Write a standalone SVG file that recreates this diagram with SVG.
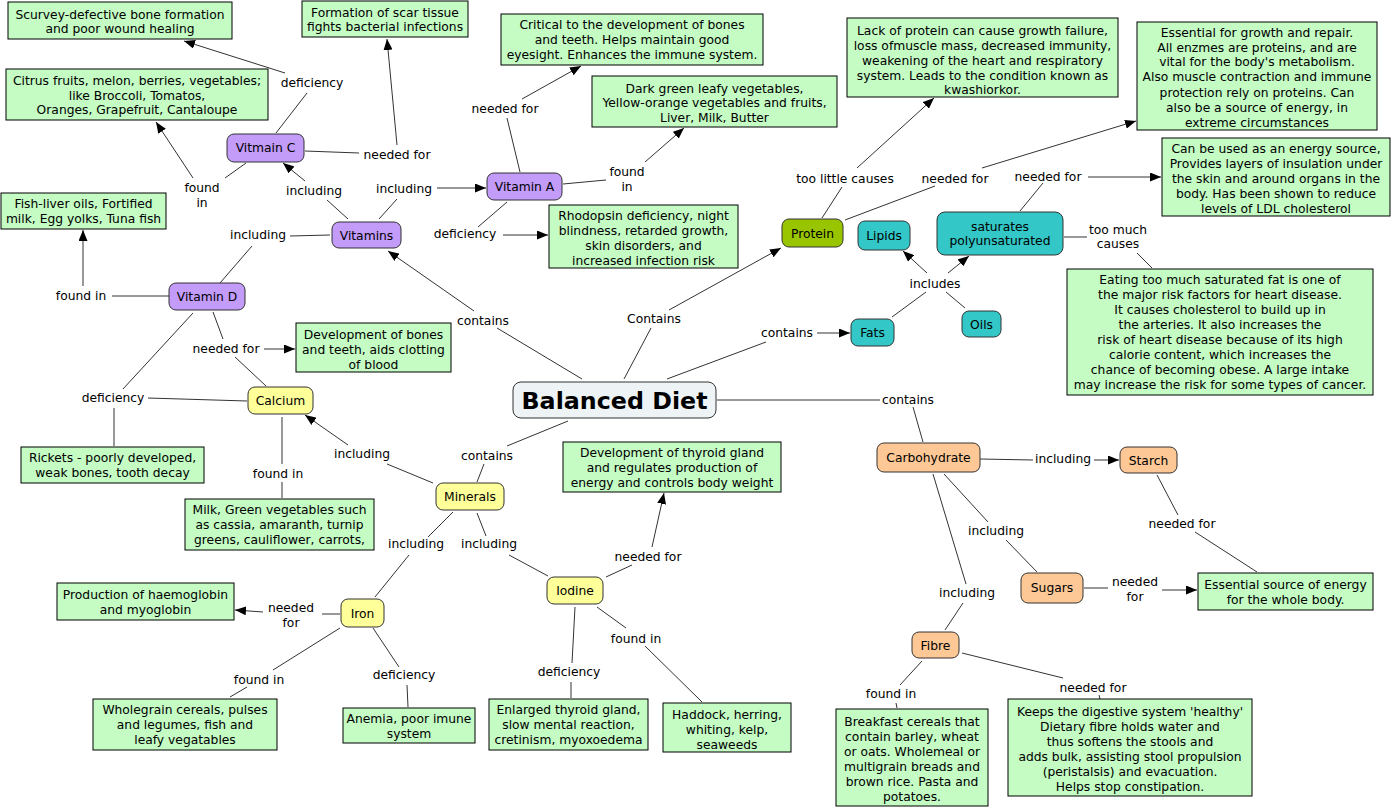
<svg xmlns="http://www.w3.org/2000/svg" width="1392" height="808" viewBox="0 0 1392 808">
<style>
text{font-family:"DejaVu Sans","Verdana",sans-serif;font-size:12.3px;fill:#000;text-anchor:middle}
.box{fill:#c4fcc4;stroke:#000;stroke-width:1}
.n{stroke:#333;stroke-width:1}
.pur{fill:#c39bf8}
.yel{fill:#ffff99}
.cya{fill:#33c7c7}
.ora{fill:#fdc896}
.pro{fill:#99c400}
.c line{stroke:#333;stroke-width:1}
.c line.a{marker-end:url(#arr)}
.title{font-size:23px;font-weight:bold}
</style>
<defs>
<marker id="arr" viewBox="0 0 10 10" refX="10" refY="5" markerWidth="11" markerHeight="9" orient="auto" markerUnits="userSpaceOnUse" preserveAspectRatio="none"><path d="M0,0 L10,5 L0,10 z" fill="#000"/></marker>
</defs>
<rect width="1392" height="808" fill="#fff"/>

<g id="connectors" class="c">
<line x1="285" y1="73" x2="184" y2="41" class="a"/>
<line x1="276" y1="133" x2="307" y2="93"/>
<line x1="305" y1="151" x2="359" y2="153"/>
<line x1="397" y1="145" x2="387" y2="39" class="a"/>
<line x1="246" y1="163" x2="225" y2="178"/>
<line x1="193" y1="178" x2="156" y2="122" class="a"/>
<line x1="348" y1="219" x2="327" y2="200"/>
<line x1="305" y1="181" x2="283" y2="163" class="a"/>
<line x1="379" y1="219" x2="397" y2="199"/>
<line x1="437" y1="188" x2="486" y2="188" class="a"/>
<line x1="330" y1="235" x2="290" y2="236"/>
<line x1="252" y1="246" x2="220" y2="283"/>
<line x1="169" y1="296" x2="112" y2="296"/>
<line x1="83" y1="286" x2="83" y2="230" class="a"/>
<line x1="520" y1="172" x2="507" y2="118"/>
<line x1="522" y1="99" x2="581" y2="66" class="a"/>
<line x1="563" y1="184" x2="606" y2="180"/>
<line x1="645" y1="162" x2="684" y2="128" class="a"/>
<line x1="507" y1="202" x2="478" y2="227"/>
<line x1="503" y1="235" x2="548" y2="235" class="a"/>
<line x1="822" y1="218" x2="842" y2="187"/>
<line x1="857" y1="168" x2="934" y2="98" class="a"/>
<line x1="845" y1="220" x2="935" y2="186"/>
<line x1="982" y1="168" x2="1136" y2="121" class="a"/>
<line x1="1020" y1="211" x2="1043" y2="183"/>
<line x1="1088" y1="177" x2="1161" y2="177" class="a"/>
<line x1="1064" y1="237" x2="1087" y2="237"/>
<line x1="1137" y1="253" x2="1152" y2="268"/>
<line x1="474" y1="311" x2="388" y2="251" class="a"/>
<line x1="497" y1="328" x2="582" y2="379"/>
<line x1="624" y1="379" x2="651" y2="328"/>
<line x1="669" y1="310" x2="781" y2="248" class="a"/>
<line x1="667" y1="379" x2="766" y2="342"/>
<line x1="817" y1="333" x2="850" y2="333" class="a"/>
<line x1="892" y1="317" x2="926" y2="292"/>
<line x1="927" y1="273" x2="903" y2="251" class="a"/>
<line x1="948" y1="273" x2="969" y2="256" class="a"/>
<line x1="965" y1="308" x2="946" y2="292"/>
<line x1="717" y1="400" x2="880" y2="400"/>
<line x1="913" y1="407" x2="923" y2="442"/>
<line x1="568" y1="421" x2="507" y2="446"/>
<line x1="484" y1="464" x2="477" y2="482"/>
<line x1="213" y1="312" x2="223" y2="339"/>
<line x1="264" y1="349" x2="295" y2="349" class="a"/>
<line x1="235" y1="357" x2="266" y2="386"/>
<line x1="193" y1="313" x2="123" y2="389"/>
<line x1="148" y1="398" x2="247" y2="401"/>
<line x1="114" y1="408" x2="114" y2="446"/>
<line x1="282" y1="417" x2="282" y2="464"/>
<line x1="282" y1="482" x2="282" y2="498"/>
<line x1="433" y1="483" x2="387" y2="464"/>
<line x1="348" y1="445" x2="305" y2="415" class="a"/>
<line x1="453" y1="512" x2="428" y2="537"/>
<line x1="409" y1="555" x2="375" y2="597"/>
<line x1="477" y1="513" x2="486" y2="536"/>
<line x1="509" y1="555" x2="548" y2="576"/>
<line x1="606" y1="577" x2="632" y2="565"/>
<line x1="652" y1="547" x2="664" y2="493" class="a"/>
<line x1="575" y1="607" x2="572" y2="663"/>
<line x1="571" y1="682" x2="571" y2="698"/>
<line x1="597" y1="607" x2="626" y2="628"/>
<line x1="645" y1="646" x2="702" y2="702"/>
<line x1="340" y1="614" x2="322" y2="614"/>
<line x1="263" y1="612" x2="235" y2="610" class="a"/>
<line x1="340" y1="628" x2="273" y2="670"/>
<line x1="247" y1="687" x2="230" y2="697"/>
<line x1="373" y1="628" x2="399" y2="667"/>
<line x1="407" y1="685" x2="408" y2="707"/>
<line x1="980" y1="459" x2="1033" y2="460"/>
<line x1="1094" y1="460" x2="1119" y2="460" class="a"/>
<line x1="1157" y1="475" x2="1178" y2="515"/>
<line x1="1195" y1="532" x2="1257" y2="572"/>
<line x1="944" y1="474" x2="988" y2="522"/>
<line x1="1006" y1="540" x2="1037" y2="572"/>
<line x1="933" y1="474" x2="966" y2="584"/>
<line x1="963" y1="603" x2="945" y2="630"/>
<line x1="1084" y1="588" x2="1108" y2="588"/>
<line x1="1162" y1="590" x2="1197" y2="590" class="a"/>
<line x1="922" y1="661" x2="900" y2="685"/>
<line x1="896" y1="703" x2="897" y2="708"/>
<line x1="962" y1="653" x2="1063" y2="678"/>
<line x1="1099" y1="695" x2="1100" y2="699"/>

<text x="312" y="87">deficiency</text>
<text x="397" y="159">needed for</text>
<text x="202" y="192">found</text><text x="202" y="207">in</text>
<text x="314" y="195">including</text>
<text x="404" y="193">including</text>
<text x="258" y="239">including</text>
<text x="505" y="113">needed for</text>
<text x="627" y="176">found</text><text x="627" y="191">in</text>
<text x="465" y="238">deficiency</text>
<text x="845" y="183">too little causes</text>
<text x="955" y="183">needed for</text>
<text x="1048" y="181">needed for</text>
<text x="1118" y="234">too much</text><text x="1118" y="248">causes</text>
<text x="483" y="325">contains</text>
<text x="654" y="323">Contains</text>
<text x="787" y="337">contains</text>
<text x="935" y="288">includes</text>
<text x="908" y="404">contains</text>
<text x="487" y="460">contains</text>
<text x="81" y="300">found in</text>
<text x="226" y="353">needed for</text>
<text x="113" y="402">deficiency</text>
<text x="278" y="478">found in</text>
<text x="362" y="458">including</text>
<text x="416" y="548">including</text>
<text x="489" y="548">including</text>
<text x="648" y="561">needed for</text>
<text x="569" y="676">deficiency</text>
<text x="636" y="643">found in</text>
<text x="291" y="612">needed</text><text x="291" y="627">for</text>
<text x="259" y="684">found in</text>
<text x="404" y="679">deficiency</text>
<text x="1063" y="463">including</text>
<text x="1182" y="528">needed for</text>
<text x="996" y="535">including</text>
<text x="967" y="597">including</text>
<text x="1135" y="586">needed</text><text x="1135" y="601">for</text>
<text x="891" y="698">found in</text>
<text x="1093" y="692">needed for</text>
</g>

<g id="balanced-diet"><rect x="513" y="382" width="203" height="36" rx="8" fill="#eef3f6" class="n"/><text x="614.5" y="409" class="title" textLength="186" lengthAdjust="spacingAndGlyphs">Balanced Diet</text></g>

<g id="vitamin-c"><rect x="227" y="134" width="77" height="28" rx="7" class="n pur"/><text x="265.5" y="152">Vitmain C</text></g>
<g id="vitamins"><rect x="332" y="222" width="69" height="26" rx="7" class="n pur"/><text x="366.5" y="239.5">Vitamins</text></g>
<g id="vitamin-a"><rect x="487" y="173" width="75" height="27" rx="7" class="n pur"/><text x="524.5" y="191">Vitamin A</text></g>
<g id="vitamin-d"><rect x="169" y="283" width="76" height="27" rx="7" class="n pur"/><text x="207" y="301">Vitamin D</text></g>
<g id="protein"><rect x="782" y="219" width="61" height="28" rx="7" class="n pro"/><text x="812.5" y="237.5">Protein</text></g>
<g id="lipids"><rect x="858" y="221" width="52" height="29" rx="7" class="n cya"/><text x="884" y="240">Lipids</text></g>
<g id="saturates"><rect x="937" y="212" width="126" height="43" rx="8" class="n cya"/><text x="1000" y="230.5">saturates</text><text x="1000" y="244.5">polyunsaturated</text></g>
<g id="fats"><rect x="851" y="319" width="43" height="27" rx="7" class="n cya"/><text x="872.5" y="337">Fats</text></g>
<g id="oils"><rect x="962" y="311" width="39" height="26" rx="7" class="n cya"/><text x="981.5" y="328.5">Oils</text></g>
<g id="calcium"><rect x="248" y="387" width="65" height="27" rx="7" class="n yel"/><text x="280.5" y="405">Calcium</text></g>
<g id="minerals"><rect x="436" y="483" width="68" height="27" rx="7" class="n yel"/><text x="470" y="501">Minerals</text></g>
<g id="iron"><rect x="341" y="599" width="43" height="28" rx="7" class="n yel"/><text x="362.5" y="617.5">Iron</text></g>
<g id="iodine"><rect x="547" y="577" width="56" height="27" rx="7" class="n yel"/><text x="575" y="595">Iodine</text></g>
<g id="carbohydrate"><rect x="877" y="443" width="103" height="29" rx="7" class="n ora"/><text x="928.5" y="462">Carbohydrate</text></g>
<g id="starch"><rect x="1120" y="447" width="57" height="26" rx="7" class="n ora"/><text x="1148.5" y="465">Starch</text></g>
<g id="sugars"><rect x="1021" y="573" width="62" height="30" rx="7" class="n ora"/><text x="1052" y="592">Sugars</text></g>
<g id="fibre"><rect x="912" y="632" width="47" height="26" rx="7" class="n ora"/><text x="935.5" y="649.5">Fibre</text></g>

<g id="scurvy"><rect x="8" y="2" width="224" height="37" class="box"/><text x="120" y="18.5">Scurvey-defective bone formation</text><text x="120" y="33">and poor wound healing</text></g>
<g id="scar-tissue"><rect x="302" y="1" width="166" height="36" class="box"/><text x="385" y="16.5">Formation of scar tissue</text><text x="385" y="31">fights bacterial infections</text></g>
<g id="citrus"><rect x="6" y="69" width="262" height="51" class="box"/><text x="137" y="84.5">Citrus fruits, melon, berries, vegetables;</text><text x="137" y="99.5">like Broccoli, Tomatos,</text><text x="137" y="114">Oranges, Grapefruit, Cantaloupe</text></g>
<g id="fish-liver"><rect x="1" y="193" width="165" height="36" class="box"/><text x="83.5" y="207.5">Fish-liver oils, Fortified</text><text x="83.5" y="222.5">milk, Egg yolks, Tuna fish</text></g>
<g id="vita-needed"><rect x="501" y="14" width="262" height="51" class="box"/><text x="632" y="28.5">Critical to the development of bones</text><text x="632" y="43.5">and teeth. Helps maintain good</text><text x="632" y="58.5">eyesight. Enhances the immune system.</text></g>
<g id="vita-found"><rect x="592" y="76" width="245" height="51" class="box"/><text x="714.5" y="92.5">Dark green leafy vegetables,</text><text x="714.5" y="107">Yellow-orange vegetables and fruits,</text><text x="714.5" y="121.5">Liver, Milk, Butter</text></g>
<g id="protein-lack"><rect x="847" y="18" width="271" height="79" class="box"/><text x="982.5" y="34.5">Lack of protein can cause growth failure,</text><text x="982.5" y="49.5">loss ofmuscle mass, decreased immunity,</text><text x="982.5" y="64.5">weakening of the heart and respiratory</text><text x="982.5" y="79.5">system. Leads to the condition known as</text><text x="982.5" y="94">kwashiorkor.</text></g>
<g id="protein-needed"><rect x="1137" y="22" width="240" height="108" class="box"/><text x="1257" y="36.5">Essential for growth and repair.</text><text x="1257" y="51.5">All enzmes are proteins, and are</text><text x="1257" y="66">vital for the body's metabolism.</text><text x="1257" y="81">Also muscle contraction and immune</text><text x="1257" y="96.5">protection rely on proteins. Can</text><text x="1257" y="111.5">also be a source of energy, in</text><text x="1257" y="126.5">extreme circumstances</text></g>
<g id="fat-needed"><rect x="1162" y="138" width="228" height="78" class="box"/><text x="1276" y="152.5">Can be used as an energy source,</text><text x="1276" y="167.5">Provides layers of insulation under</text><text x="1276" y="182.5">the skin and around organs in the</text><text x="1276" y="198">body. Has been shown to reduce</text><text x="1276" y="213">levels of LDL cholesterol</text></g>
<g id="rhodopsin"><rect x="549" y="205" width="189" height="63" class="box"/><text x="643.5" y="219.5">Rhodopsin deficiency, night</text><text x="643.5" y="234.5">blindness, retarded growth,</text><text x="643.5" y="250">skin disorders, and</text><text x="643.5" y="265">increased infection risk</text></g>
<g id="fat-too-much"><rect x="1067" y="269" width="306" height="126" class="box"/><text x="1220" y="283.5">Eating too much saturated fat is one of</text><text x="1220" y="298.5">the major risk factors for heart disease.</text><text x="1220" y="313.5">It causes cholesterol to build up in</text><text x="1220" y="328.5">the arteries. It also increases the</text><text x="1220" y="343.5">risk of heart disease because of its high</text><text x="1220" y="358.5">calorie content, which increases the</text><text x="1220" y="373.5">chance of becoming obese. A large intake</text><text x="1220" y="388.5">may increase the risk for some types of cancer.</text></g>
<g id="vitd-needed"><rect x="296" y="323" width="155" height="49" class="box"/><text x="373.5" y="338.5">Development of bones</text><text x="373.5" y="353.5">and teeth, aids clotting</text><text x="373.5" y="368.5">of blood</text></g>
<g id="rickets"><rect x="21" y="447" width="183" height="36" class="box"/><text x="112.5" y="461.5">Rickets - poorly developed,</text><text x="112.5" y="476.5">weak bones, tooth decay</text></g>
<g id="calcium-found"><rect x="185" y="499" width="189" height="51" class="box"/><text x="279.5" y="513.5">Milk, Green vegetables such</text><text x="279.5" y="528.5">as cassia, amaranth, turnip</text><text x="279.5" y="543.5">greens, cauliflower, carrots,</text></g>
<g id="iodine-needed"><rect x="563" y="442" width="218" height="50" class="box"/><text x="672" y="456.5">Development of thyroid gland</text><text x="672" y="471.5">and regulates production of</text><text x="672" y="486.5">energy and controls body weight</text></g>
<g id="iron-needed"><rect x="57" y="583" width="177" height="37" class="box"/><text x="145.5" y="598.5">Production of haemoglobin</text><text x="145.5" y="613.5">and myoglobin</text></g>
<g id="iron-found"><rect x="93" y="699" width="184" height="51" class="box"/><text x="185" y="713.5">Wholegrain cereals, pulses</text><text x="185" y="728.5">and legumes, fish and</text><text x="185" y="743.5">leafy vegatables</text></g>
<g id="anemia"><rect x="343" y="708" width="132" height="35" class="box"/><text x="409" y="722.5">Anemia, poor imune</text><text x="409" y="737.5">system</text></g>
<g id="iodine-deficiency"><rect x="489" y="699" width="159" height="51" class="box"/><text x="568.5" y="713.5">Enlarged thyroid gland,</text><text x="568.5" y="728.5">slow mental reaction,</text><text x="568.5" y="743.5">cretinism, myoxoedema</text></g>
<g id="iodine-found"><rect x="663" y="703" width="128" height="49" class="box"/><text x="727" y="718.5">Haddock, herring,</text><text x="727" y="733.5">whiting, kelp,</text><text x="727" y="748.5">seaweeds</text></g>
<g id="fibre-found"><rect x="836" y="709" width="152" height="97" class="box"/><text x="912" y="725.5">Breakfast cereals that</text><text x="912" y="740.5">contain barley, wheat</text><text x="912" y="755.5">or oats. Wholemeal or</text><text x="912" y="770.5">multigrain breads and</text><text x="912" y="785.5">brown rice. Pasta and</text><text x="912" y="800.5">potatoes.</text></g>
<g id="fibre-needed"><rect x="1008" y="699" width="244" height="97" class="box"/><text x="1130" y="715.5">Keeps the digestive system 'healthy'</text><text x="1130" y="730.5">Dietary fibre holds water and</text><text x="1130" y="745.5">thus softens the stools and</text><text x="1130" y="760.5">adds bulk, assisting stool propulsion</text><text x="1130" y="775.5">(peristalsis) and evacuation.</text><text x="1130" y="790.5">Helps stop constipation.</text></g>
<g id="energy"><rect x="1198" y="573" width="175" height="37" class="box"/><text x="1285.5" y="588.5">Essential source of energy</text><text x="1285.5" y="603.5">for the whole body.</text></g>
</svg>
